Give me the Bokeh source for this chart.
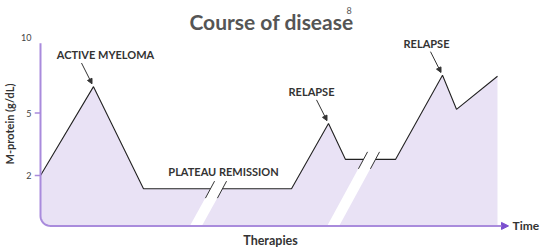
import numpy as np
from bokeh.plotting import figure
from bokeh.models import Range1d, FixedTicker, Arrow, NormalHead
from bokeh.core.properties import value
from bokeh.embed import file_html
from bokeh.resources import INLINE

# ---- data (schematic course of disease) ----
time = [0, 53, 103, 251, 288, 305, 355, 402, 416, 457]
level = [27, 74, 20, 20, 54.5, 35.5, 35.5, 80, 62, 79.5]
tick_levels = [27, 60, 100]
tick_labels = ["2", "5", "10"]
break_time = [170, 323]          # where the axis breaks cross the curve
break_level = [20, 35.5]
annot_text = ["ACTIVE MYELOMA", "RELAPSE", "RELAPSE"]
annot_peak = [1, 4, 7]           # index of the point each label points to
annot_dx = [12, -17, -16]
plateau_text = "PLATEAU REMISSION"
title_text = "Course of disease"
title_ref = "8"

FONT = "Lato"
TXT = "#333333"
FILL = "#e9e2f5"
AXIS = "#a98bdc"

p = figure(width=541, height=247, x_range=Range1d(-6, 501), y_range=Range1d(-11.11, 119.58),
           min_border_left=34, min_border_right=0, min_border_top=0, min_border_bottom=0,
           x_axis_location=None, title=None,
           toolbar_location=None, output_backend="svg")
p.grid.visible = False
p.outline_line_color = None
p.background_fill_color = "white"

# y axis: labels only
ya = p.yaxis[0]
ya.ticker = FixedTicker(ticks=tick_levels)
ya.major_label_overrides = {t: l for t, l in zip(tick_levels, tick_labels)}
ya.axis_line_color = None
ya.major_tick_line_color = None
ya.minor_tick_line_color = None
ya.major_tick_out = 0
ya.major_tick_in = 0
ya.major_label_standoff = 3
ya.major_label_text_font = FONT
ya.major_label_text_font_size = "9px"
ya.major_label_text_color = "#444444"
ya.axis_label = "M-protein (g/dL)"
ya.axis_label_text_font = FONT
ya.axis_label_text_font_style = "bold"
ya.axis_label_text_font_size = "11px"
ya.axis_label_text_color = TXT
ya.axis_label_standoff = 2

ky = 247 / (119.58 + 11.11)   # px per level unit
r = 10.0                       # corner radius in px
ang = np.linspace(np.pi, 1.5 * np.pi, 12)
corner_x = list(r + r * np.cos(ang))
corner_y = list(0.3 + (r + r * np.sin(ang)) / ky)

# filled area under the curve
fx = list(time) + [time[-1]] + corner_x[::-1]
fy = list(level) + [0.3] + corner_y[::-1]
p.patch(fx, fy, fill_color=FILL, line_color=None)

# curve
p.line(time, level, line_color="#222222", line_width=1.1)

# axis breaks (white stripes + slashes)
slope = 0.536 * ky           # time units per level unit
bw = 12
for bt, bl in zip(break_time, break_level):
    top = bl + 4
    x0 = bt - bl * slope
    xs = [x0, x0 + bw, bt + bw + 4 * slope, bt + 4 * slope]
    ys = [0.6, 0.6, top, top]
    p.patch(xs, ys, fill_color="white", line_color=None)
    lo = bl - 5
    for dx in (0, bw):
        p.segment(x0=[bt + dx - 5 * slope], y0=[lo], x1=[bt + dx + 4 * slope], y1=[top],
                  line_color="#333333", line_width=1)

# axes drawn as glyphs
ax_x = [0, 0] + corner_x + [462]
ax_y = [97, corner_y[0]] + corner_y + [0.3]
p.line(ax_x, ax_y, line_color=AXIS, line_width=2)
p.add_layout(Arrow(end=NormalHead(size=7, fill_color="#7b4fcf", line_color="#7b4fcf"),
                   x_start=458, y_start=0.3, x_end=468, y_end=0.3,
                   line_color=AXIS, line_width=2))
p.segment(x0=[-6] * 2, y0=tick_levels[:2], x1=[0] * 2, y1=tick_levels[:2],
          line_color=AXIS, line_width=1.5)

# annotations
for txt, idx, ddx in zip(annot_text, annot_peak, annot_dx):
    px, py = time[idx], level[idx]
    p.add_layout(Arrow(end=NormalHead(size=5, fill_color="#333333", line_color="#333333"),
                       x_start=px - 12, y_start=py + 12.5, x_end=px - 1.5, y_end=py + 1.5,
                       line_color="#333333", line_width=1))
    p.text(x=[px + ddx], y=[py + 17], text=[txt], text_font=value(FONT),
           text_font_style="bold", text_font_size="11px", text_color=TXT,
           text_align="center", text_baseline="middle")

p.text(x=[183], y=[29], text=[plateau_text], text_font=value(FONT), text_font_style="bold",
       text_font_size="11px", text_color=TXT, text_align="center", text_baseline="middle")
p.text(x=[472], y=[0.3], text=["Time"], text_font=value(FONT), text_font_style="bold",
       text_font_size="12px", text_color=TXT, text_align="left", text_baseline="middle")
p.text(x=[230], y=[-7.4], text=["Therapies"], text_font=value(FONT), text_font_style="bold",
       text_font_size="12.5px", text_color=TXT, text_align="center", text_baseline="middle")

# title with reference superscript
p.text(x=[231], y=[108.5], text=[title_text], text_font=value(FONT), text_font_style="bold",
       text_font_size="21px", text_color="#555555", text_align="center",
       text_baseline="alphabetic")
p.text(x=[306], y=[114.2], text=[title_ref], text_font=value(FONT),
       text_font_size="9px", text_color="#555555", text_align="left",
       text_baseline="alphabetic")

open("out.html", "w").write(file_html(p, INLINE))
